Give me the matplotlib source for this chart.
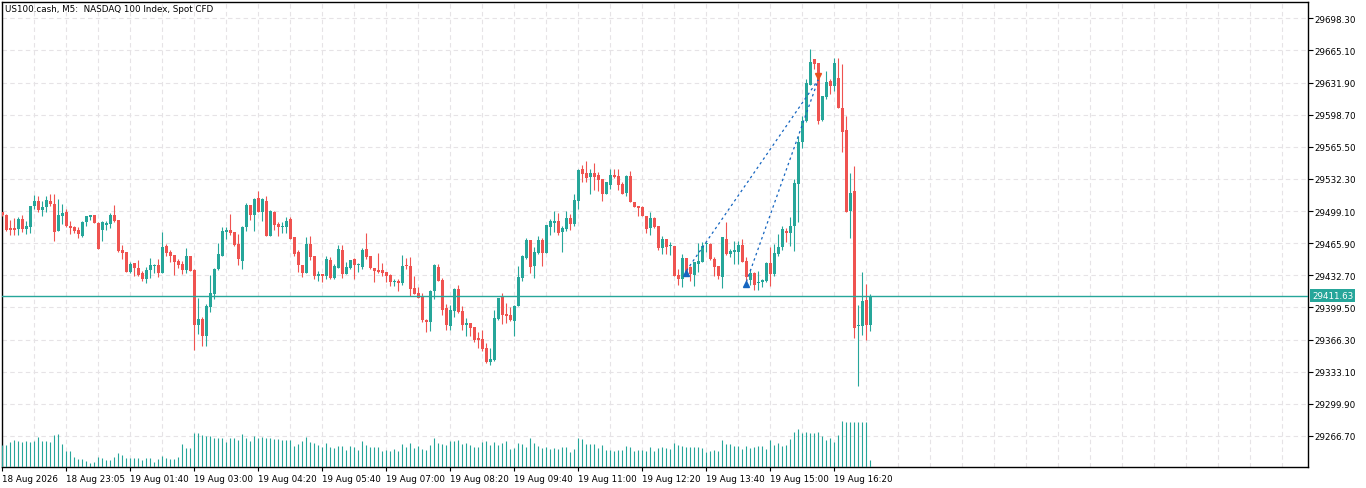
import matplotlib
matplotlib.use("Agg")
import matplotlib.pyplot as plt
import matplotlib.transforms as mtransforms
import numpy as np

# ---- chart data (US100.cash M5 candles) ----
opens = [29497.7, 29495.0, 29481.6, 29481.6, 29480.5, 29490.9, 29480.9, 29482.9, 29504.6, 29509.4,
         29500.1, 29503.2, 29509.4, 29506.3, 29478.8, 29494.3, 29498.1, 29483.6, 29482.6, 29479.8,
         29473.3, 29487.4, 29493.3, 29495.0, 29487.1, 29479.8, 29485.0, 29486.0, 29495.0, 29490.2,
         29458.8, 29456.8, 29436.5, 29445.4, 29440.3, 29435.0, 29429.2, 29438.2, 29442.0, 29443.4,
         29435.4, 29463.0, 29456.8, 29453.7, 29447.8, 29444.4, 29438.5, 29452.6, 29438.5, 29381.8,
         29387.6, 29370.4, 29400.3, 29413.8, 29439.2, 29453.0, 29477.8, 29479.5, 29477.1, 29465.0,
         29447.8, 29482.9, 29505.3, 29495.3, 29512.5, 29498.4, 29509.4, 29473.6, 29498.4, 29485.7,
         29482.9, 29482.9, 29490.9, 29472.6, 29456.8, 29443.4, 29435.1, 29465.0, 29452.6, 29432.3,
         29434.1, 29432.3, 29448.5, 29429.9, 29440.6, 29458.8, 29434.1, 29440.6, 29449.6, 29443.4,
         29441.3, 29459.9, 29452.6, 29440.3, 29438.2, 29438.2, 29436.5, 29433.0, 29426.1, 29426.8,
         29424.8, 29443.4, 29442.3, 29419.6, 29414.4, 29411.7, 29386.9, 29384.8, 29416.8, 29441.6,
         29427.8, 29398.6, 29380.7, 29396.2, 29418.5, 29395.5, 29381.7, 29383.8, 29379.3, 29368.0,
         29366.9, 29357.6, 29343.5, 29345.6, 29387.6, 29410.6, 29392.7, 29392.0, 29385.9, 29401.3,
         29429.9, 29450.6, 29469.1, 29442.6, 29455.7, 29469.5, 29455.7, 29482.9, 29487.0, 29489.1,
         29477.7, 29480.5, 29491.9, 29485.7, 29509.8, 29542.4, 29538.3, 29534.5, 29538.3, 29536.3,
         29532.1, 29517.0, 29526.3, 29536.3, 29535.2, 29527.0, 29517.7, 29535.2, 29508.7, 29504.6,
         29503.6, 29494.3, 29481.2, 29491.9, 29484.0, 29460.9, 29470.2, 29463.0, 29463.3, 29433.0,
         29428.9, 29450.6, 29440.9, 29433.0, 29444.4, 29446.1, 29464.7, 29465.0, 29449.5, 29442.7,
         29430.6, 29470.2, 29454.7, 29457.1, 29456.4, 29464.0, 29447.1, 29428.2, 29435.1, 29424.4,
         29426.1, 29427.2, 29445.4, 29434.1, 29454.7, 29461.6, 29478.8, 29476.0, 29483.3, 29527.0,
         29570.7, 29592.0, 29629.5, 29656.0, 29651.9, 29593.4, 29616.5, 29633.7, 29628.5, 29636.4,
         29605.5, 29583.1, 29498.8, 29519.8, 29380.0, 29380.7, 29407.2, 29381.7]
highs = [29498.4, 29495.7, 29489.8, 29491.9, 29493.3, 29495.0, 29488.4, 29504.6, 29515.6, 29514.6,
         29509.4, 29514.6, 29516.7, 29516.7, 29511.5, 29506.3, 29501.2, 29488.8, 29484.0, 29482.3,
         29488.8, 29494.0, 29494.6, 29495.0, 29487.8, 29488.4, 29489.1, 29497.0, 29505.3, 29490.2,
         29464.0, 29456.8, 29446.1, 29445.4, 29448.2, 29437.5, 29440.9, 29450.6, 29444.4, 29449.6,
         29477.8, 29464.7, 29459.2, 29453.7, 29449.6, 29447.8, 29460.9, 29452.6, 29439.2, 29409.3,
         29389.7, 29403.1, 29433.0, 29439.9, 29465.7, 29482.9, 29482.9, 29496.0, 29477.1, 29475.4,
         29484.0, 29507.4, 29505.3, 29512.5, 29519.8, 29512.5, 29515.0, 29500.1, 29499.5, 29488.1,
         29487.4, 29493.3, 29493.3, 29472.6, 29458.8, 29443.4, 29472.6, 29473.6, 29452.6, 29437.5,
         29434.1, 29453.0, 29451.3, 29444.4, 29464.0, 29464.0, 29446.1, 29448.5, 29450.9, 29445.4,
         29460.6, 29476.4, 29452.6, 29440.3, 29455.8, 29445.4, 29436.5, 29434.1, 29428.9, 29428.9,
         29453.7, 29450.9, 29451.6, 29432.0, 29420.3, 29414.4, 29387.6, 29417.9, 29444.4, 29444.4,
         29429.9, 29403.1, 29402.4, 29419.6, 29422.7, 29400.7, 29388.6, 29383.8, 29379.3, 29374.5,
         29376.6, 29362.8, 29357.6, 29396.9, 29409.3, 29414.4, 29404.1, 29400.3, 29402.4, 29442.6,
         29453.7, 29471.2, 29469.1, 29461.6, 29472.9, 29471.2, 29484.6, 29490.8, 29499.4, 29497.0,
         29483.3, 29499.4, 29496.0, 29516.6, 29542.4, 29546.9, 29550.4, 29542.4, 29548.6, 29539.0,
         29532.1, 29529.4, 29542.4, 29542.4, 29542.4, 29529.4, 29536.3, 29540.4, 29508.7, 29504.6,
         29504.6, 29494.3, 29497.7, 29492.6, 29484.0, 29473.6, 29470.2, 29467.4, 29463.3, 29439.2,
         29454.7, 29450.6, 29442.7, 29446.8, 29466.1, 29467.4, 29467.4, 29465.7, 29451.3, 29442.7,
         29471.9, 29487.4, 29459.9, 29468.5, 29468.5, 29470.2, 29451.3, 29439.2, 29435.8, 29437.5,
         29428.9, 29446.8, 29461.6, 29465.0, 29475.4, 29483.3, 29481.9, 29492.9, 29532.1, 29576.9,
         29597.5, 29635.4, 29666.4, 29656.0, 29651.9, 29617.8, 29644.0, 29635.4, 29657.1, 29657.1,
         29650.9, 29596.9, 29538.3, 29545.9, 29402.4, 29435.8, 29423.7, 29413.4]
lows = [29494.3, 29478.5, 29474.7, 29474.3, 29474.7, 29477.8, 29475.4, 29476.1, 29501.2, 29498.4,
        29493.6, 29498.4, 29504.3, 29468.5, 29478.8, 29485.7, 29482.9, 29475.0, 29476.4, 29470.9,
        29472.6, 29484.0, 29490.2, 29486.4, 29460.2, 29467.8, 29479.8, 29481.9, 29487.4, 29457.1,
        29449.6, 29436.5, 29435.4, 29432.3, 29432.3, 29427.2, 29425.1, 29429.6, 29434.8, 29431.3,
        29435.4, 29453.0, 29446.8, 29433.4, 29439.9, 29434.4, 29435.4, 29437.5, 29355.9, 29372.5,
        29360.1, 29360.1, 29394.5, 29408.3, 29438.5, 29452.3, 29470.2, 29474.7, 29463.3, 29443.4,
        29439.2, 29478.8, 29489.8, 29478.8, 29498.4, 29489.1, 29473.6, 29473.6, 29479.8, 29473.0,
        29476.4, 29476.4, 29470.2, 29453.0, 29436.5, 29431.3, 29435.1, 29448.5, 29428.9, 29427.2,
        29425.5, 29428.9, 29428.9, 29428.9, 29440.6, 29429.6, 29434.1, 29439.2, 29428.9, 29436.5,
        29439.2, 29449.6, 29439.2, 29426.1, 29435.4, 29432.3, 29426.1, 29422.0, 29422.0, 29416.8,
        29422.7, 29439.2, 29411.0, 29413.4, 29408.9, 29384.1, 29373.8, 29375.5, 29408.2, 29427.2,
        29392.0, 29376.6, 29376.6, 29390.0, 29393.8, 29376.6, 29370.4, 29370.0, 29363.5, 29357.3,
        29354.2, 29342.5, 29340.4, 29344.6, 29386.9, 29382.4, 29383.4, 29385.2, 29370.4, 29401.3,
        29427.1, 29449.5, 29435.4, 29429.9, 29454.3, 29442.6, 29455.7, 29474.6, 29477.1, 29474.6,
        29457.1, 29478.4, 29479.5, 29483.9, 29501.1, 29529.4, 29528.7, 29517.0, 29521.1, 29520.1,
        29509.8, 29516.6, 29521.8, 29533.2, 29521.1, 29516.6, 29514.9, 29508.7, 29503.6, 29494.3,
        29493.6, 29476.0, 29474.7, 29481.6, 29459.2, 29454.7, 29454.7, 29454.0, 29432.3, 29423.0,
        29420.3, 29431.7, 29427.2, 29422.0, 29435.8, 29446.1, 29456.4, 29448.9, 29432.3, 29428.9,
        29419.6, 29453.7, 29451.3, 29444.4, 29444.4, 29446.1, 29425.5, 29422.7, 29417.9, 29417.9,
        29420.3, 29425.5, 29421.3, 29432.3, 29453.0, 29458.8, 29466.8, 29462.6, 29458.2, 29487.4,
        29564.5, 29590.7, 29629.5, 29645.7, 29588.9, 29592.4, 29615.4, 29619.9, 29623.4, 29605.1,
        29559.7, 29498.4, 29471.2, 29368.0, 29318.8, 29371.4, 29365.9, 29375.2]
closes = [29495.0, 29479.5, 29479.5, 29479.8, 29490.9, 29480.5, 29483.6, 29503.9, 29509.4, 29500.5,
          29503.2, 29510.5, 29506.3, 29477.8, 29495.0, 29497.0, 29484.0, 29481.9, 29478.8, 29475.0,
          29487.4, 29494.0, 29494.6, 29486.4, 29460.2, 29487.4, 29487.1, 29495.0, 29488.8, 29458.2,
          29456.1, 29436.5, 29444.4, 29439.9, 29433.4, 29429.2, 29438.5, 29443.4, 29443.4, 29435.4,
          29461.9, 29456.1, 29453.0, 29446.8, 29443.7, 29438.5, 29452.6, 29437.5, 29381.8, 29387.6,
          29370.4, 29401.4, 29414.4, 29439.2, 29454.7, 29478.8, 29479.5, 29476.4, 29464.0, 29449.6,
          29482.2, 29505.3, 29495.3, 29511.5, 29498.4, 29511.5, 29473.6, 29499.5, 29485.0, 29482.9,
          29483.6, 29488.8, 29470.2, 29454.7, 29443.4, 29435.1, 29465.0, 29451.6, 29432.3, 29434.1,
          29432.3, 29449.6, 29429.9, 29442.0, 29459.9, 29434.1, 29441.3, 29448.5, 29443.4, 29444.4,
          29458.8, 29451.6, 29440.3, 29437.2, 29436.5, 29435.1, 29432.3, 29426.1, 29426.8, 29424.8,
          29442.3, 29442.3, 29418.6, 29413.4, 29409.3, 29386.9, 29384.8, 29416.8, 29443.3, 29427.2,
          29397.2, 29381.7, 29396.9, 29418.5, 29394.5, 29381.7, 29383.8, 29378.6, 29365.9, 29365.9,
          29356.6, 29343.5, 29346.3, 29388.3, 29409.3, 29392.0, 29391.0, 29386.9, 29401.3, 29430.6,
          29453.0, 29469.1, 29441.3, 29457.1, 29469.1, 29455.7, 29484.6, 29488.4, 29489.1, 29476.7,
          29481.5, 29491.9, 29486.0, 29510.8, 29541.4, 29537.6, 29533.5, 29538.3, 29534.5, 29531.4,
          29517.0, 29528.7, 29536.3, 29534.2, 29526.3, 29517.0, 29535.2, 29508.7, 29503.6, 29502.5,
          29494.3, 29480.5, 29491.9, 29482.2, 29460.9, 29470.2, 29461.6, 29464.0, 29432.3, 29428.9,
          29450.6, 29435.8, 29434.1, 29446.8, 29447.8, 29463.3, 29465.7, 29449.5, 29440.9, 29431.7,
          29471.9, 29454.7, 29458.2, 29459.2, 29464.0, 29446.1, 29430.6, 29434.8, 29422.7, 29426.1,
          29427.9, 29445.4, 29434.1, 29455.7, 29461.6, 29480.2, 29476.0, 29483.3, 29528.0, 29571.0,
          29592.0, 29631.3, 29653.3, 29650.9, 29592.4, 29617.8, 29632.6, 29628.5, 29652.6, 29605.1,
          29581.0, 29498.4, 29517.7, 29378.6, 29381.4, 29406.5, 29381.7, 29411.63]
tick_volume = [680, 680, 770, 820, 790, 770, 790, 770, 790, 910, 790, 790, 770, 970, 1000, 700,
               490, 490, 300, 250, 250, 190, 140, 160, 310, 280, 220, 220, 300, 430, 370, 290,
               270, 270, 270, 220, 290, 290, 160, 250, 330, 270, 250, 250, 310, 700, 580, 580,
               1020, 1040, 970, 940, 940, 870, 870, 870, 770, 870, 870, 820, 1000, 880, 790, 940,
               870, 910, 880, 880, 840, 840, 820, 820, 820, 640, 700, 790, 910, 770, 740, 670,
               610, 740, 610, 580, 640, 640, 520, 640, 610, 520, 790, 670, 610, 610, 610, 490,
               520, 490, 550, 490, 700, 610, 740, 580, 640, 550, 520, 670, 880, 740, 700, 670,
               790, 790, 820, 700, 730, 670, 610, 610, 760, 790, 670, 760, 670, 730, 790, 550,
               580, 730, 700, 610, 880, 730, 640, 580, 610, 550, 580, 550, 610, 610, 460, 550,
               880, 850, 700, 700, 700, 580, 670, 520, 520, 490, 520, 520, 640, 610, 490, 520,
               520, 490, 610, 490, 580, 610, 580, 550, 730, 670, 640, 610, 610, 610, 610, 580,
               460, 490, 520, 490, 820, 700, 700, 640, 640, 550, 640, 580, 610, 640, 640, 550,
               820, 670, 730, 640, 670, 850, 1060, 1150, 1030, 1060, 1030, 1030, 1060, 940, 820, 880,
               760, 970, 1390, 1360, 1350, 1360, 1360, 1360, 1360, 220]

time_tick_bars = [0, 16, 32, 48, 64, 80, 96, 112, 128, 144, 160, 176, 192, 208]
time_tick_labels = ["18 Aug 2026", "18 Aug 23:05", "19 Aug 01:40", "19 Aug 03:00", "19 Aug 04:20",
                    "19 Aug 05:40", "19 Aug 07:00", "19 Aug 08:20", "19 Aug 09:40", "19 Aug 11:00",
                    "19 Aug 12:20", "19 Aug 13:40", "19 Aug 15:00", "19 Aug 16:20"]
price_ticks = [29698.30, 29665.10, 29631.90, 29598.70, 29565.50, 29532.30, 29499.10,
               29465.90, 29432.70, 29399.50, 29366.30, 29333.10, 29299.90, 29266.70]
bid_price = 29411.63

# trades: two buys closed together
buy_bars = [171, 186]
buy_prices = [29437.5, 29426.0]
close_bar = 204
close_price = 29635.0

title = "US100.cash, M5:  NASDAQ 100 Index, Spot CFD"

BULL = "#26a69a"
BEAR = "#ef5350"
GRID = "#e6e3e6"
FONT = "DejaVu Sans"
FS = 6.3

W, H = 1366, 489
fig = plt.figure(figsize=(W / 100, H / 100), dpi=100)
fig.patch.set_facecolor("white")
left, right, top, bottom = 2, 1308, 2.7, 468.3
ax = fig.add_axes([left / W, 1 - bottom / H, (right - left) / W, (bottom - top) / H])

x = np.arange(len(opens))
o = np.array(opens)
c = np.array(closes)
hi = np.array(highs)
lo = np.array(lows)
up = c >= o
cols = np.where(up, BULL, BEAR)

# grid
for gx in range(0, 330, 8):
    ax.axvline(gx, color=GRID, lw=0.8, ls=(0, (4, 3)), zorder=0)
for gy in price_ticks:
    ax.axhline(gy, color=GRID, lw=0.8, ls=(0, (4, 3)), zorder=0)

# volumes on a twin scale at the bottom
axv = ax.twinx()
axv.vlines(x, 0, tick_volume, color=BULL, lw=0.8, zorder=2)
axv.set_ylim(0, 30 * (bottom - top))
axv.set_yticks([])
for s in axv.spines.values():
    s.set_visible(False)

# candles
ax.vlines(x, lo, hi, colors=cols, lw=0.8, zorder=3)
body = np.maximum(np.abs(c - o), 1.0)
ax.bar(x, body, bottom=np.minimum(o, c), width=0.75, color=cols, linewidth=0, zorder=4)

# bid line
ax.axhline(bid_price, color=BULL, lw=1.0, zorder=5)

# trade history
for bb, bp in zip(buy_bars, buy_prices):
    ax.plot([bb, close_bar], [bp, close_price], color="#1565c0", lw=0.9, ls=(0, (2, 2.5)), zorder=6)
    ax.plot(bb, bp - 2, marker="^", color="#1565c0", ms=5, zorder=7)
ax.plot(close_bar, close_price + 4, marker="v", color="#e8501e", ms=5, zorder=7)

ax.set_xlim(-0.1, (right - left) / 4 - 0.1)
ax.set_ylim(29266.70 - (bottom - 437) * 1.0333, 29698.30 + (19.3 - top) * 1.0333)
axv.set_xlim(ax.get_xlim())

# axes styling, MT5 style frame
for s in ax.spines.values():
    s.set_color("black")
    s.set_linewidth(1.0)
ax.yaxis.tick_right()
ax.set_yticks(price_ticks)
ax.set_yticklabels(["%.2f" % p for p in price_ticks], fontsize=FS, family=FONT)
ax.tick_params(axis="y", direction="out", length=3.6, width=0.8, pad=0.8, colors="black")
ax.set_xticks(time_tick_bars)
ax.set_xticklabels(time_tick_labels, fontsize=FS, family=FONT)
ax.tick_params(axis="x", direction="out", length=3.0, width=0.8, pad=1.5, colors="black")
for lab in ax.get_xticklabels():
    lab.set_horizontalalignment("left")

# bid price tag
trans = mtransforms.offset_copy(ax.get_yaxis_transform(), fig=fig, x=4, y=0, units="dots")
ax.text(1.0, bid_price, "%.2f" % bid_price, transform=trans, fontsize=FS, family=FONT,
        color="white", va="center", ha="left", zorder=10, clip_on=False,
        bbox=dict(boxstyle="square,pad=0.25", fc=BULL, ec="none"))

fig.text(5 / W, 1 - 9 / H, title, fontsize=FS, family=FONT, va="center", ha="left")

fig.savefig("out.png", dpi=100, facecolor="white")
